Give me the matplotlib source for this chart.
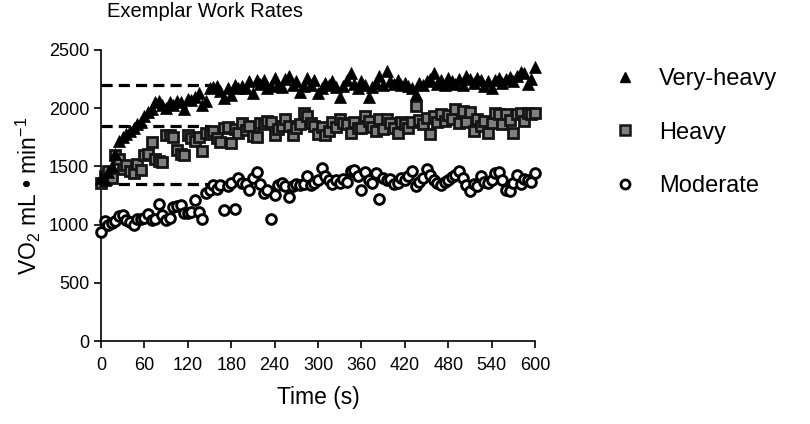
import matplotlib
matplotlib.use("Agg")
import matplotlib.pyplot as plt
from matplotlib.lines import Line2D
import numpy as np

plt.rcParams['font.family'] = ['Liberation Sans', 'DejaVu Sans']
plt.rcParams['mathtext.fontset'] = 'custom'
plt.rcParams['mathtext.rm'] = 'Liberation Sans'
plt.rcParams['mathtext.it'] = 'Liberation Sans:italic'

time_s = list(range(0, 601, 5))

very_heavy = [1400, 1380, 1450, 1500, 1610, 1720, 1750, 1780, 1800, 1830,
              1860, 1880, 1930, 1970, 1990, 2050, 2060, 2030, 2000, 2050,
              2030, 2060, 2050, 1990, 2080, 2070, 2100, 2130, 2030, 2060,
              2170, 2180, 2190, 2150, 2090, 2170, 2110, 2200, 2170, 2190,
              2170, 2230, 2130, 2240, 2210, 2240, 2170, 2190, 2260, 2200,
              2180, 2250, 2280, 2200, 2230, 2140, 2190, 2260, 2200, 2240,
              2130, 2170, 2220, 2200, 2230, 2180, 2100, 2190, 2240, 2300,
              2210, 2170, 2230, 2200, 2100, 2180, 2220, 2280, 2200, 2320,
              2230, 2210, 2240, 2200, 2220, 2190, 2170, 2120, 2220, 2200,
              2230, 2250, 2300, 2210, 2240, 2200, 2260, 2230, 2210, 2250,
              2200, 2280, 2250, 2220, 2260, 2240, 2190, 2230, 2170, 2240,
              2260, 2220, 2250, 2270, 2230, 2280, 2310, 2300, 2210, 2250,
              2350]

heavy = [1360, 1420, 1460, 1400, 1600, 1560, 1480, 1510, 1460, 1440,
         1520, 1470, 1600, 1610, 1710, 1560, 1550, 1540, 1770, 1770,
         1755, 1640, 1610, 1600, 1770, 1740, 1720, 1755, 1630, 1790,
         1780, 1800, 1740, 1710, 1830, 1840, 1700, 1820, 1790, 1870,
         1810, 1850, 1760, 1750, 1870, 1860, 1890, 1880, 1770, 1820,
         1850, 1910, 1850, 1770, 1830, 1860, 1960, 1930, 1870, 1850,
         1780, 1840, 1770, 1800, 1880, 1840, 1910, 1870, 1860, 1790,
         1880, 1830, 1830, 1930, 1890, 1840, 1800, 1910, 1820, 1910,
         1870, 1830, 1790, 1880, 1860, 1830, 1880, 2020, 1900, 1860,
         1920, 1780, 1930, 1880, 1950, 1890, 1940, 1910, 1990, 1870,
         1980, 1880, 1970, 1800, 1910, 1850, 1890, 1790, 1870, 1960,
         1950, 1860, 1950, 1900, 1790, 1950, 1960, 1890, 1960, 1950,
         1960]

moderate = [940, 1030, 1000, 1010, 1030, 1070, 1080, 1040, 1020, 1000,
            1050, 1050, 1060, 1090, 1040, 1050, 1180, 1080, 1040, 1060,
            1150, 1160, 1170, 1100, 1100, 1110, 1210, 1110, 1050, 1270,
            1300, 1340, 1310, 1340, 1125, 1330, 1360, 1130, 1400, 1360,
            1350, 1300, 1400, 1450, 1350, 1270, 1300, 1045, 1250, 1340,
            1360, 1330, 1240, 1330, 1350, 1340, 1350, 1420, 1340, 1360,
            1380, 1490, 1420, 1380, 1350, 1380, 1360, 1390, 1370, 1460,
            1470, 1420, 1300, 1450, 1380, 1360, 1440, 1220, 1400, 1380,
            1390, 1350, 1360, 1400, 1380, 1420, 1460, 1330, 1370, 1400,
            1480, 1430, 1380, 1360, 1340, 1370, 1380, 1410, 1430, 1460,
            1400, 1340, 1290, 1350, 1330, 1420, 1370, 1360, 1380, 1440,
            1450, 1380, 1300, 1290, 1360, 1430, 1350, 1390, 1380, 1370,
            1440]

baseline_levels = [2200, 1850, 1350]
baseline_span = [0, 150]

x_ticks = list(range(0, 601, 60))
y_ticks = list(range(0, 2501, 500))
labels = ["Very-heavy", "Heavy", "Moderate"]

fig = plt.figure(figsize=(8.1, 4.24), dpi=100)
ax = fig.add_axes([101/810, 1 - 341/424, 434/810, 291/424])

for lvl in baseline_levels:
    ax.plot(baseline_span, [lvl, lvl], color='black', lw=2.3,
            dashes=(3.5, 1.9), zorder=1, solid_capstyle='butt')

ax.plot(time_s, moderate, linestyle='none', marker='o', markersize=7,
        markerfacecolor='white', markeredgecolor='black', markeredgewidth=2.1,
        clip_on=False, zorder=3)
ax.plot(time_s, heavy, linestyle='none', marker='s', markersize=7.8,
        markerfacecolor='#7f7f7f', markeredgecolor='#151515', markeredgewidth=2,
        clip_on=False, zorder=3)
ax.plot(time_s, very_heavy, linestyle='none', marker='^', markersize=8.5,
        markerfacecolor='black', markeredgecolor='black', markeredgewidth=0.5,
        clip_on=False, zorder=3)

ax.set_xlim(0, 600)
ax.set_ylim(0, 2500)
ax.set_xticks(x_ticks)
ax.set_yticks(y_ticks)
ax.tick_params(axis='both', labelsize=13, length=5, width=1.2, direction='out')
ax.tick_params(axis='x', pad=6.5)
for s in ['top', 'right']:
    ax.spines[s].set_visible(False)
for s in ['left', 'bottom']:
    ax.spines[s].set_linewidth(1.2)

ax.set_xlabel('Time (s)', fontsize=16.5, labelpad=9)
ax.set_ylabel('VO$_2$ mL • min$^{-1}$', fontsize=16.5, labelpad=4)

fig.text(205/810, 1 - 17/424, 'Exemplar Work Rates',
         fontsize=14.5, ha='center', va='baseline')

handles = [
    Line2D([], [], linestyle='none', marker='^', markersize=7,
           markerfacecolor='black', markeredgecolor='black'),
    Line2D([], [], linestyle='none', marker='s', markersize=7,
           markerfacecolor='#7f7f7f', markeredgecolor='#151515', markeredgewidth=1.8),
    Line2D([], [], linestyle='none', marker='o', markersize=6.5,
           markerfacecolor='white', markeredgecolor='black', markeredgewidth=2),
]
fig.legend(handles, labels, loc='upper left', bbox_to_anchor=(0.760, 0.839),
           frameon=False, fontsize=17, handlelength=0.8, handletextpad=1.04,
           labelspacing=1.33, borderpad=0, borderaxespad=0)

fig.savefig('out.png', dpi=100)
